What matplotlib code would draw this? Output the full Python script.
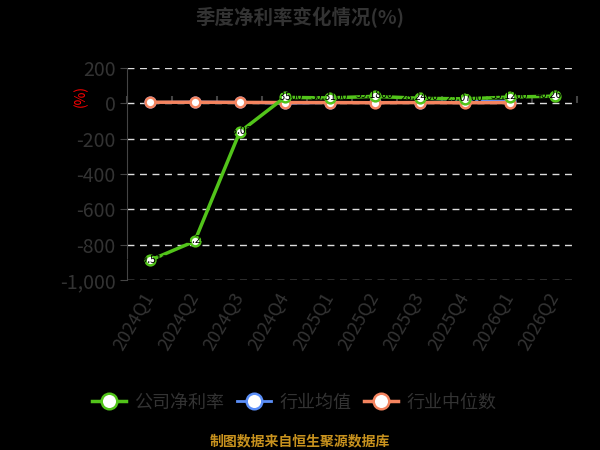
import numpy as np
import matplotlib
matplotlib.use('Agg')
import matplotlib.pyplot as plt
from matplotlib.ticker import FuncFormatter

plt.rcParams['font.family'] = ['Noto Sans CJK SC', 'DejaVu Sans']

quarters = ['2024Q1', '2024Q2', '2024Q3', '2024Q4', '2025Q1',
            '2025Q2', '2025Q3', '2025Q4', '2026Q1', '2026Q2']
company = [-889.51, -781.24, -163.08, 33.35, 30.31, 39.18, 28.24, 25.07, 35.12, 40.26]
ind_mean = [5, 7, 6, 0, 4, 5, 4, 10, 12, np.nan]
ind_median = [6, 6, 5, 4, 4, 3, 4, 3, 4, np.nan]

green = '#52c41a'
blue = '#5b8ff9'
orange = '#f4845f'
txt = '#333333'

fig = plt.figure(figsize=(6, 4.5), dpi=100, facecolor='black')
ax = fig.add_axes([0.212, 0.378, 0.75, 0.471], facecolor='black')

x = np.arange(len(quarters))
mk = dict(marker='o', markersize=7, markerfacecolor='white', markeredgewidth=1.8)
ax.plot(x, ind_median, color=orange, lw=2.5, markeredgecolor=orange, zorder=3,
        label='行业中位数', **mk)
ax.plot(x, ind_mean, color=blue, lw=2, markeredgecolor=blue, zorder=2,
        label='行业均值', **mk)
ax.plot(x, company, color=green, lw=2.5, markeredgecolor=green, zorder=4,
        label='公司净利率', **mk)

# data labels (black text, only visible where it covers the lines)
for xi, v in zip(x, company):
    ax.text(xi, v + 5, '%.4f' % v, fontsize=7.5, color='black',
            va='center', ha='center', zorder=5, clip_on=False)

ax.set_xlim(-0.5, len(quarters) - 0.5)
ax.set_ylim(-1000, 200)
ax.set_yticks(np.arange(-1000, 201, 200))
ax.yaxis.set_major_formatter(FuncFormatter(lambda v, p: '{:,.0f}'.format(v)))
ax.grid(axis='y', color='#dddddd', ls=(0, (5, 4)), lw=1)
ax.set_axisbelow(True)

for s in ['top', 'right', 'bottom']:
    ax.spines[s].set_visible(False)
ax.spines['left'].set_color('#444444')
ax.tick_params(axis='y', colors='#444444', labelcolor=txt, labelsize=14,
               length=5)
ax.tick_params(axis='x', length=0, labelcolor=txt, labelsize=13, pad=10)
ax.set_xticks(x)
ax.set_xticklabels(quarters, rotation=60, ha='right', va='center',
                   rotation_mode='anchor')

# axis line at zero with boundary ticks
zero_loc = (0 - ax.get_ylim()[0]) / (ax.get_ylim()[1] - ax.get_ylim()[0])
sec = ax.secondary_xaxis(zero_loc)
sec.set_xticks(np.arange(len(quarters) + 1) - 0.5)
sec.set_xticklabels([])
sec.tick_params(length=5, color='#444444', width=1.5, direction='out')
sec.spines['bottom'].set_color('#444444')
sec.spines['bottom'].set_linewidth(1.5)

ax.text(-0.104, 0.87, '(%)', transform=ax.transAxes, rotation=90, color='red',
        fontsize=10, ha='center', va='center')

fig.text(0.5, 0.962, '季度净利率变化情况(%)', ha='center', va='center',
         fontsize=14, fontweight='bold', color=txt)

h, l = ax.get_legend_handles_labels()
order = [2, 1, 0]
leg = fig.legend([h[i] for i in order], [l[i] for i in order], loc='center',
                 bbox_to_anchor=(0.49, 0.105), ncol=3, frameon=False,
                 fontsize=13, labelcolor=txt, handlelength=1.9,
                 columnspacing=0.7, handletextpad=0.45, markerscale=1.6)

fig.text(0.5, 0.02, '制图数据来自恒生聚源数据库', ha='center', va='center',
         fontsize=10, fontweight='bold', color='#c8921e')

fig.savefig('out.png', dpi=100, facecolor='black')
